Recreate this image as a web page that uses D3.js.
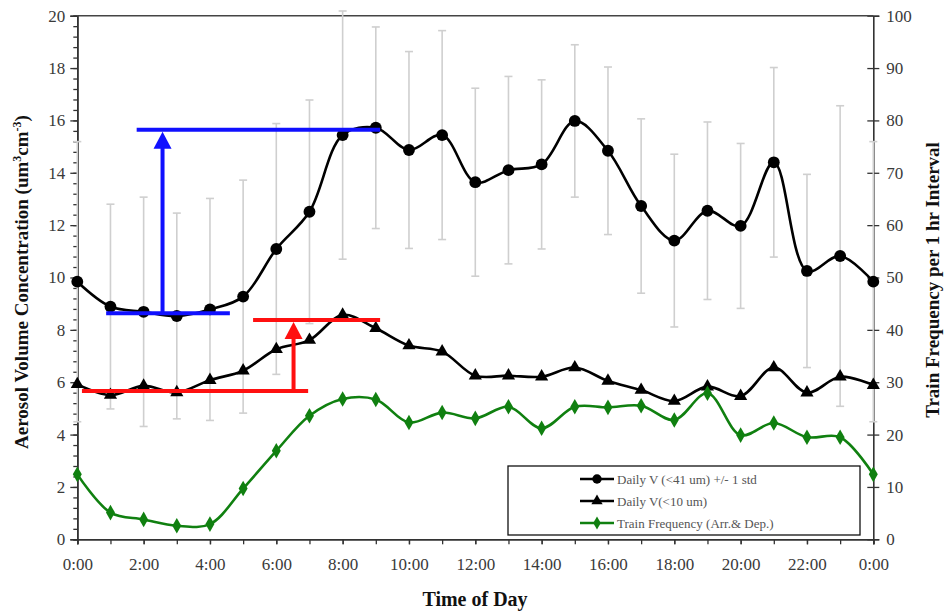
<!DOCTYPE html>
<meta charset="utf-8">
<style>
  body { margin: 0; padding: 0; background: white; }
  svg { background: white; }
  text { font-family: "Liberation Serif", "Times New Roman", serif; }
</style>
<script src="https://d3js.org/d3.v7.min.js"></script>
<svg id="vis"></svg>
<script>

var width = 945, height = 613;
var serif = "'Liberation Serif', 'Times New Roman', serif";

// hour of day (24 = midnight again)
const hours = [0,1,2,3,4,5,6,7,8,9,10,11,12,13,14,15,16,17,18,19,20,21,22,23,24];
const xTickLabels = ["0:00","2:00","4:00","6:00","8:00","10:00","12:00","14:00","16:00","18:00","20:00","22:00","0:00"];

// Daily V (<41 um) mean and +/- 1 std
const v41 = [9.84,8.89,8.69,8.53,8.78,9.27,11.09,12.51,15.44,15.72,14.87,15.44,13.64,14.10,14.32,15.98,14.84,12.73,11.41,12.55,11.97,14.40,10.25,10.82,9.84];
const v41Std = [5.35,3.91,4.38,3.93,4.24,4.45,4.79,4.27,4.74,3.85,3.76,3.99,3.59,3.58,3.23,2.91,3.20,3.33,3.30,3.39,3.15,3.62,3.69,5.74,5.35];
// Daily V (<10 um)
const v10 = [5.92,5.51,5.86,5.61,6.08,6.44,7.26,7.61,8.57,8.06,7.40,7.17,6.25,6.25,6.21,6.56,6.05,5.70,5.28,5.83,5.47,6.56,5.60,6.21,5.89];
// Train frequency (right axis)
const trains = [12.4,5.1,3.8,2.6,2.9,9.7,16.9,23.6,26.8,26.7,22.3,24.2,23.1,25.3,21.2,25.3,25.2,25.5,22.8,27.9,19.9,22.2,19.5,19.5,12.4];

const seriesNames = ["Daily V (<41 um) +/- 1 std", "Daily V(<10 um)", "Train Frequency (Arr.& Dep.)"];

var svg = d3.select("svg").attr("width", width).attr("height", height);

var x = d3.scaleLinear().domain([0, 24]).range([77.3, 873.3]);
var y = d3.scaleLinear().domain([0, 20]).range([539.3, 15.7]);
var y2 = d3.scaleLinear().domain([0, 100]).range([539.3, 15.7]);

var axisColor = "#333";
var labelColor = "#3a3a3a";

function styleAxis(g) {
  g.attr("font-family", null);
  g.selectAll("path").attr("stroke", axisColor).attr("stroke-width", 1.6);
  g.selectAll("line").attr("stroke", axisColor).attr("stroke-width", 1.3);
  g.selectAll("text").attr("font-size", 17).attr("fill", labelColor)
    .style("font-family", serif);
}

// left axis: minor ticks every 0.4
var minorL = d3.range(0, 20.001, 0.4);
var gl = svg.append("g").attr("transform", "translate(" + x(0) + ",0)");
gl.call(d3.axisLeft(y).tickValues(minorL).tickSize(4).tickFormat(""));
gl.append("g").call(d3.axisLeft(y).tickValues(d3.range(0, 21, 2)).tickSize(7).tickPadding(5));
styleAxis(gl);
gl.selectAll("g").attr("font-family", null);

// right axis: crossing major ticks
var gr = svg.append("g").attr("transform", "translate(" + x(24) + ",0)");
gr.call(d3.axisRight(y2).tickValues(d3.range(0, 101, 10)).tickSize(6).tickPadding(7));
gr.selectAll(".tick line").attr("x1", -6);
styleAxis(gr);

// bottom axis: a tick each hour, labels every 2 hours
var gb = svg.append("g").attr("transform", "translate(0," + y(0) + ")");
gb.call(d3.axisBottom(x).tickValues(hours).tickSize(5).tickFormat(""));
gb.append("g").call(d3.axisBottom(x).tickValues(d3.range(0, 25, 2)).tickSize(5).tickPadding(14)
  .tickFormat(function(d, i) { return xTickLabels[i]; }));
styleAxis(gb);
gb.selectAll("g").attr("font-family", null);

// top frame line
svg.append("line")
  .attr("x1", x(0)).attr("x2", x(24)).attr("y1", y(20)).attr("y2", y(20))
  .attr("stroke", "#444").attr("stroke-width", 1.4);

// axis titles
svg.append("text")
  .attr("x", 475).attr("y", 606).attr("text-anchor", "middle")
  .attr("font-size", 20).attr("font-weight", "bold").attr("fill", "#111")
  .style("font-family", serif)
  .text("Time of Day");

var lt = svg.append("text")
  .attr("transform", "translate(28,282) rotate(-90)")
  .attr("text-anchor", "middle")
  .attr("font-size", 19).attr("font-weight", "bold").attr("fill", "#111")
  .style("font-family", serif);
lt.append("tspan").text("Aerosol Volume Concentration (um");
lt.append("tspan").attr("font-size", 12).attr("dy", -7).text("3");
lt.append("tspan").attr("dy", 7).text("cm");
lt.append("tspan").attr("font-size", 12).attr("dy", -7).text("-3");
lt.append("tspan").attr("dy", 7).text(")");

svg.append("text")
  .attr("transform", "translate(939,280) rotate(-90)")
  .attr("text-anchor", "middle")
  .attr("font-size", 19).attr("font-weight", "bold").attr("fill", "#111")
  .style("font-family", serif)
  .text("Train Frequency per 1 hr Interval");

// error bars
var eb = svg.append("g").attr("stroke", "#cfcfcf").attr("stroke-width", 1.6);
hours.forEach(function(h, i) {
  var top = y(v41[i] + v41Std[i]), bot = y(v41[i] - v41Std[i]);
  eb.append("line").attr("x1", x(h)).attr("x2", x(h)).attr("y1", top).attr("y2", bot);
  eb.append("line").attr("x1", x(h) - 4).attr("x2", x(h) + 4).attr("y1", top).attr("y2", top);
  eb.append("line").attr("x1", x(h) - 4).attr("x2", x(h) + 4).attr("y1", bot).attr("y2", bot);
});

var curve = d3.curveCatmullRom.alpha(0.5);

function drawSeries(vals, scale, color, marker, size) {
  var line = d3.line().x(function(d, i) { return x(hours[i]); })
    .y(function(d) { return scale(d); }).curve(curve);
  svg.append("path").datum(vals)
    .attr("d", line).attr("fill", "none")
    .attr("stroke", color).attr("stroke-width", 2.6);
  svg.append("g").selectAll("path").data(vals).enter().append("path")
    .attr("d", d3.symbol().type(marker).size(size))
    .attr("transform", function(d, i) { return "translate(" + x(hours[i]) + "," + scale(d) + ")"; })
    .attr("fill", color);
}

drawSeries(v41, y, "#000", d3.symbolCircle, 110);
drawSeries(v10, y, "#000", d3.symbolTriangle, 75);
drawSeries(trains, y2, "#108010", d3.symbolDiamond, 70);

// annotations (hour, value positions)
function annot(color, top, bottom) {
  var g = svg.append("g").attr("stroke", color).attr("stroke-width", 4).attr("fill", color);
  g.append("line").attr("x1", x(top.from)).attr("x2", x(top.to)).attr("y1", y(top.v)).attr("y2", y(top.v));
  g.append("line").attr("x1", x(bottom.from)).attr("x2", x(bottom.to)).attr("y1", y(bottom.v)).attr("y2", y(bottom.v));
  var ax = x(top.arrow);
  g.append("line").attr("x1", ax).attr("x2", ax).attr("y1", y(bottom.v)).attr("y2", y(top.v) + 14);
  g.append("path").attr("stroke", "none")
    .attr("d", "M" + ax + "," + (y(top.v) + 2) + "L" + (ax - 9) + "," + (y(top.v) + 19) + "L" + (ax + 9) + "," + (y(top.v) + 19) + "Z");
}
annot("#1010ff", {from: 1.79, to: 9.13, v: 15.64, arrow: 2.57}, {from: 0.87, to: 4.6, v: 8.63});
annot("#ff1010", {from: 5.3, to: 9.13, v: 8.38, arrow: 6.52}, {from: 0.14, to: 6.96, v: 5.66});

// legend
var lg = svg.append("g").attr("transform", "translate(508,466)");
lg.append("rect").attr("width", 352).attr("height", 69)
  .attr("fill", "white").attr("stroke", "#111").attr("stroke-width", 1.3);
var legendColors = ["#000", "#000", "#108010"];
var legendMarkers = [d3.symbolCircle, d3.symbolTriangle, d3.symbolDiamond];
var legendSizes = [70, 55, 50];
seriesNames.forEach(function(name, i) {
  var ly = 13 + i * 22;
  lg.append("line").attr("x1", 72).attr("x2", 106).attr("y1", ly).attr("y2", ly)
    .attr("stroke", legendColors[i]).attr("stroke-width", 2.5);
  lg.append("path").attr("d", d3.symbol().type(legendMarkers[i]).size(legendSizes[i]))
    .attr("transform", "translate(89," + ly + ")").attr("fill", legendColors[i]);
  lg.append("text").attr("x", 109).attr("y", ly + 4.5)
    .attr("font-size", 13).attr("fill", "#555")
    .style("font-family", serif).text(name);
});

</script>
